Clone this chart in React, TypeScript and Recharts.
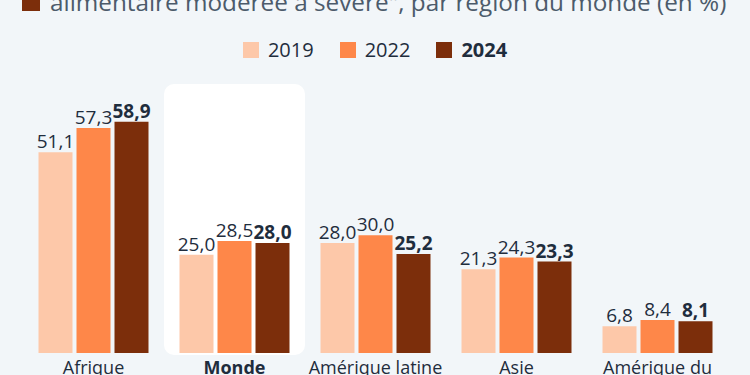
import React from 'react';
import {
    BarChart,
    Bar,
    XAxis,
    YAxis,
    LabelList,
    ReferenceArea
} from 'recharts';

// Catégories et valeurs (en %)
const regions = ['Afrique', 'Monde', 'Amérique latine', 'Asie', 'Amérique du Nord'];
const values2019 = [51.1, 25.0, 28.0, 21.3, 6.8];
const values2022 = [57.3, 28.5, 30.0, 24.3, 8.4];
const values2024 = [58.9, 28.0, 25.2, 23.3, 8.1];
const years = ['2019', '2022', '2024'];

const COLORS = ['#fdc8a9', '#fe8749', '#7c2e0b'];
const TEXT = '#1f2d3d';
const FONT = '"Open Sans", sans-serif';
const LABEL_SIZE = 19;

const chartData = regions.map((region, i) => ({
    region,
    v2019: values2019[i],
    v2022: values2022[i],
    v2024: values2024[i]
}));

const fmt = (v: any) => Number(v).toFixed(1).replace('.', ',');

// Etiquette de catégorie : "Monde" en gras, retour à la ligne pour les noms longs
const RegionTick = (props: any) => {
    const { x, y, payload } = props;
    const label: string = payload.value;
    const lines = label === 'Amérique du Nord' ? ['Amérique du', 'Nord'] : [label];
    return (
        <text
            x={x}
            y={y}
            textAnchor="middle"
            fill={TEXT}
            fontSize={18}
            fontFamily={FONT}
            fontWeight={label === 'Monde' ? 700 : 400}
        >
            {lines.map((l, i) => (
                <tspan key={l} x={x} dy={i === 0 ? '0.71em' : '1.4em'}>{l}</tspan>
            ))}
        </text>
    );
};

const HighlightBox = (props: any) => {
    const { x, y, width, height } = props;
    return <rect x={x} y={y} width={width} height={height} rx={10} ry={10} fill="#ffffff" />;
};

export default function App() {
    return (
        <div
            style={{
                position: 'absolute',
                left: 0,
                top: 0,
                width: 750,
                height: 375,
                overflow: 'hidden',
                background: '#f2f6f9',
                fontFamily: FONT
            }}
        >
            {/* Titre (coupé en haut) */}
            <div style={{ position: 'absolute', left: 22, top: -7, width: 18, height: 18, background: COLORS[2] }} />
            <div
                style={{
                    position: 'absolute',
                    left: 50,
                    top: -10.5,
                    fontSize: 24.3,
                    lineHeight: '24.3px',
                    color: '#4c5b6b',
                    whiteSpace: 'nowrap'
                }}
            >
                alimentaire modérée à sévère", par région du monde (en %)
            </div>

            {/* Légende */}
            <div
                style={{
                    position: 'absolute',
                    left: 0,
                    top: 39.5,
                    width: 750,
                    display: 'flex',
                    justifyContent: 'center',
                    alignItems: 'center',
                    fontSize: 20,
                    lineHeight: '20px',
                    color: TEXT
                }}
            >
                {years.map((year, i) => (
                    <div key={year} style={{ display: 'flex', alignItems: 'center', marginLeft: i === 0 ? 0 : 26 }}>
                        <span style={{ width: 16, height: 16, background: COLORS[i], marginRight: 9 }} />
                        <span style={{ fontWeight: i === 2 ? 700 : 400 }}>{year}</span>
                    </div>
                ))}
            </div>

            <div style={{ position: 'absolute', left: 0, top: 0 }}>
                <BarChart
                    width={750}
                    height={375}
                    data={chartData}
                    margin={{ top: 117.4, right: 22, bottom: 0, left: 23 }}
                    barCategoryGap={15.5}
                    barGap={4}
                >
                    <ReferenceArea
                        x1="Monde"
                        x2="Monde"
                        y1={-0.5}
                        y2={68.5}
                        ifOverflow="visible"
                        shape={HighlightBox}
                    />
                    <XAxis
                        dataKey="region"
                        axisLine={false}
                        tickLine={false}
                        tickSize={0}
                        tickMargin={8}
                        height={22}
                        interval={0}
                        tick={<RegionTick />}
                    />
                    <YAxis hide domain={[0, 60]} />
                    <Bar dataKey="v2019" fill={COLORS[0]} isAnimationActive={false}>
                        <LabelList
                            dataKey="v2019"
                            position="top"
                            offset={4}
                            formatter={fmt}
                            fill={TEXT}
                            fontSize={LABEL_SIZE}
                            fontFamily={FONT}
                        />
                    </Bar>
                    <Bar dataKey="v2022" fill={COLORS[1]} isAnimationActive={false}>
                        <LabelList
                            dataKey="v2022"
                            position="top"
                            offset={4}
                            formatter={fmt}
                            fill={TEXT}
                            fontSize={LABEL_SIZE}
                            fontFamily={FONT}
                        />
                    </Bar>
                    <Bar dataKey="v2024" fill={COLORS[2]} isAnimationActive={false}>
                        <LabelList
                            dataKey="v2024"
                            position="top"
                            offset={4}
                            formatter={fmt}
                            fill={TEXT}
                            fontSize={LABEL_SIZE}
                            fontWeight={700}
                            fontFamily={FONT}
                        />
                    </Bar>
                </BarChart>
            </div>
        </div>
    );
}
